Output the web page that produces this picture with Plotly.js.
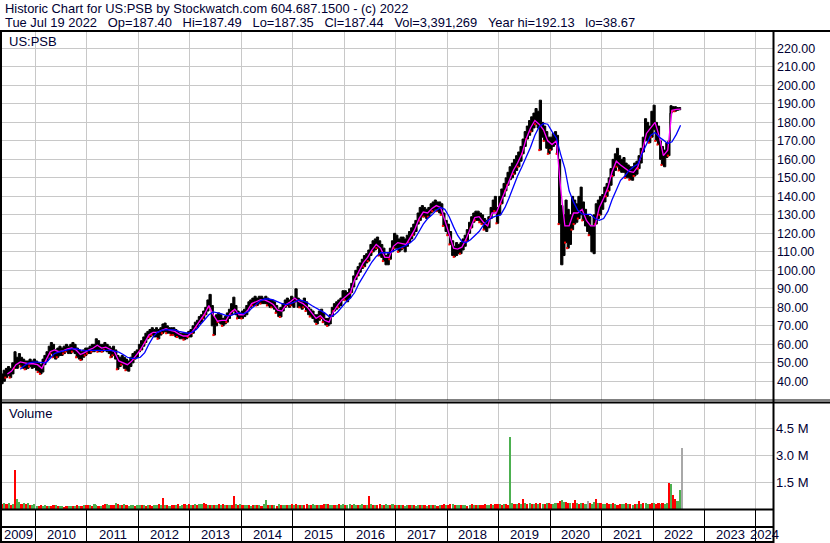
<!DOCTYPE html>
<html><head><meta charset="utf-8">
<script src="https://cdn.plot.ly/plotly-3.0.1.min.js"></script>
<style>html,body{margin:0;padding:0;background:#fff;overflow:hidden}#chart{width:830px;height:543px}</style>
</head><body><div id="chart"></div>
<script>
// ---------------- DATA ----------------
const FIRST_YEAR = 2009, FIRST_MONTH = 5, LAST_YEAR = 2022, LAST_MONTH = 7;

// half-month high / low envelope of the daily bars (1st-15th, 16th-end)
const H2009=[44,46,47,48,47,50,56,53,55,53,52,51,51,52,51,52];
const L2009=[38.7,40,42,43,42,44,47,47,49,48,47,46.5,47,48,47,47.5];
const H2010=[51,50,49,52,54,56,59,61,60,57,58,59,58,59,60,59,60,61,60,58,57,56,57,58];
const L2010=[46,45,44,45,49,51,53,55,53,52,53,54,54,55,56,55,55,56,55,53,52,51.5,53,54];
const H2011=[58,59,60,60,63,62,60,60,61,60,59,58,59,57,54,53,54,53,52,51,53,55,56,57];
const L2011=[55,55,56,56,57,56,56,56,57,56,55,53,54,52,46.5,48,49,47,46,45.5,48,50,52,53];
const H2012=[60,62,64,66,67,68,69,68,69,68,69,71,71.5,70,69,69,69,68,67,66,66,66,66,67];
const L2012=[56,57,59,61,63,64,65,64,64,63,65,66,67,66,66,65,65,64,64,63,63,62.5,63,64];
const H2013=[68,70,72,73,75,76,78,80,84,87,81,75,76,77,76,74,75,77,79,82,85.5,81,78,77];
const L2013=[64,66,68,69,71,72,74,76,78,80,70,65,70,72,71,70,71,72,74,76,78,76,74,74];
const H2014=[78,79,81,83,84,85,86,85,86,86,85,86,85,84,84,83,81,79,80,82,84,85,84,86];
const L2014=[74,75,76,78,80,81,81,81,82,82,82,82,81,80,80,79,77,75,74.8,78,80,81,80,81];
const H2015=[85,90,85,84,83,85,83,80,79,78,76,76,78,79,77,74,74,76,80,82,83,84,85,89];
const L2015=[80,83,80,80,79,80,78,76,75,74,72,71,73,74,72,70.5,70,71,75,78,79,80,81,84];
const H2016=[89,88,90,93,97,100,102,104,106,108,109,111,114,116,117,118,116,114,112,108,109,112,116,120];
const L2016=[84,83,85,88,91,95,97,99,101,102,104,105,108,110,111,112,108,107,105,103,103,106,110,112];
const H2017=[119,117,118,118,117,119,121,123,125,127,131,134,135,134,133,134,136,137,138,137,137,136,131,127];
const L2017=[112,110,111,112,110,113,115,117,119,121,125,127,129,129,128,129,131,132,133,132,131,130,124,121];
const H2018=[125,121,116,113,115,114,115,117,119,122,126,129,131,132,132,131,130,128,127,129,134,138,140,134];
const L2018=[119,114,108,107.3,108,109,109,111,113,116,120,123,126,127,127,126,125,122,121,123,128,131,132,125.4];
const H2019=[140,144,147,150,153,156,158,160,162,164,167,171,175,178,181,183,185,187.5,186,192,180,178,175,172];
const L2019=[130,136,140,143,146,149,150,152,154,156,159,163,167,171,173,175,177,179,177,165,172,170,166,163];
const H2020=[172,174,175,173,160,135,130,138,133,130,140,138,136,140,145,137,133,130,129,124,130,136,138,140];
const L2020=[165,167,168,163,125,103,108,115,112,114,122,125,126,128,130,127,124,121,119,110,109,125,128,130];
const H2021=[141,145,147,150,155,160,163,166,162,160,161,158,157,156,156,158,159,162,166,172,182,180,178,186];
const L2021=[133,137,140,143,146,151,154,156,154,153,153,150,150,149,148.7,151,152,155,158,164,170,170,169,172];
const H2022=[189.3,180,178,170,167,165,169,170,189,188.5,188.5,188,188,187.5];
const L2022=[176,170,168,160,157,156,161,162,185,186,186,186.5,186.8,187.3];

// monthly readings of the two moving-average lines (magenta fast, blue slow)
const F2009=[null,44,45.5,49,50.5,50,49.5,49.5];
const F2010=[49,47,51,56,57,56,56.5,57.5,58,57,54.5,55.5];
const F2011=[57,58,59.5,58,58.5,57,56,51,50,49,51,54];
const F2012=[57,61,65,66.5,66.5,67.5,68.5,67.5,67,65.5,64.5,64.5];
const F2013=[66.5,70,73,76.5,81,76,72.5,73,73,77,79,76];
const F2014=[76,78.5,82,83,84,84,83,81.5,78.5,78,81.5,83];
const F2015=[85,83,82,80,77,74,75.5,73,72,77.5,81,84];
const F2016=[86,88,95,100,104,107,111,114,112,107,107,113];
const F2017=[115,114.5,114,118,122,128,131.5,131,133.5,135,134,127];
const F2018=[120,112,111.5,112.5,117,123,128.5,129,126,124,131,131];
const F2019=[137,143,149,154,158,163,171,177,181,179,176,170];
const F2020=[168,170,145,124,124,131,131,133,127,124,124,134];
const F2021=[139,145,153,159,157,155,153.5,153,156,164,174,177];
const F2022=[180,172,162,165,186.5,187,187.2];

const S2009=[null,null,null,null,46.5,48.5,50,50.4];
const S2010=[50.4,50.2,50,52.5,55,55.8,56.5,57,57.5,57.6,57,56.5];
const S2011=[56.7,56.7,56.8,57,57,56.7,56.3,55.8,54.5,53,52.4,52.4];
const S2012=[53,55.5,60,64,66.5,67.5,68,68,67.8,67,66.3,66];
const S2013=[66.5,68,70.5,73,76,77.5,77,76.5,75.5,75.5,76.5,77];
const S2014=[76.5,77.5,79.5,81.5,83.5,84.5,84.5,84,83,82,81.5,82];
const S2015=[83,84,83.5,82.5,81,79.5,78.5,77,75,75.5,77.5,80.5];
const S2016=[83,85,88,93,97,101,104.5,107.5,109.5,109.5,109.5,110.5];
const S2017=[111.5,112.5,113.5,115,117,121,125,128,130,132.5,134,133];
const S2018=[129,123.5,119,115.5,115,116.5,118.5,121,124.5,127,128.5,129.5];
const S2019=[130,134,139,145.5,151,156,161,166.5,173,177.5,179.4,179];
const S2020=[175,171.5,163,155,143,137,132.5,130.5,130.3,130.3,128,127];
const S2021=[128,132,138,143.5,148.7,151,154,156,157.5,163,168,173];
const S2022=[174.5,172,170.4,168.6,169.5,173.5,178.5];

// half-month peak daily volume (millions) and the direction of that day (u up, d down, f flat)
const V2009=[.30,.35,.28,.32,.25,.30,2.17,.54,.40,.30,.34,.28,.32,.22,.25,.30];
const D2009="dudu dudu udud uduu";
const V2010=[.18,.15,.20,.14,.22,.16,.19,.15,.25,.20,.16,.14,.18,.13,.15,.17,.14,.19,.16,.22,.18,.15,.20,.24];
const D2010="uddu udud dudu uddu udud udud";
const V2011=[.20,.24,.18,.26,.21,.17,.19,.23,.28,.30,.22,.25,.20,.32,.26,.22,.24,.27,.21,.19,.25,.20,.18,.23];
const D2011="dudu udud duud dudu dudu uudu";
const V2012=[.22,.20,.25,.18,.24,.21,.19,.23,.20,.26,.22,.60,.24,.20,.18,.22,.25,.21,.27,.19,.23,.30,.22,.26];
const D2012="udud uddu udud udud dudu udud";
const V2013=[.24,.21,.26,.22,.28,.30,.34,.27,.22,.25,.20,.24,.21,.28,.23,.26,.22,.25,.20,.24,.72,.28,.23,.26];
const D2013="udud uudd udud udud udud dudu";
const V2014=[.22,.25,.20,.23,.19,.21,.24,.20,.22,.18,.26,.50,.23,.20,.24,.21,.19,.27,.22,.25,.20,.23,.21,.26];
const D2014="duud udud uduu dudu dudu udud";
const V2015=[.24,.28,.22,.25,.20,.23,.26,.21,.24,.27,.22,.20,.25,.23,.28,.30,.26,.24,.22,.25,.21,.27,.23,.29];
const D2015="udud uddu duud uddu duud uduu";
const V2016=[.25,.22,.27,.24,.26,.23,.21,.25,.28,.22,.24,.72,.26,.23,.25,.21,.27,.24,.22,.26,.23,.25,.28,.24];
const D2016="duud uudu udud udud dudu udud";
const V2017=[.22,.20,.24,.21,.19,.23,.20,.25,.22,.18,.21,.24,.20,.23,.19,.22,.21,.25,.20,.18,.23,.21,.26,.22];
const D2017="udud uudu duud udud udud uddu";
const V2018=[.24,.27,.30,.23,.21,.25,.22,.20,.24,.19,.23,.26,.21,.22,.20,.24,.23,.27,.25,.22,.26,.24,.28,.30];
const D2018="ddud uudu udud udud dduu dudd";
const V2019=[.28,.25,.30,.27,.24,4.0,.35,.30,.28,.33,.29,.56,.31,.27,.34,.30,.28,.32,.29,.36,.30,.27,.33,.31];
const D2019="udud duud udud udud udud udud";
const V2020=[.30,.28,.33,.36,.45,.48,.40,.38,.34,.32,.36,.50,.33,.30,.35,.31,.29,.44,.32,.30,.38,.56,.34,.31];
const D2020="duud duud dudd udud ufdu udud";
const V2021=[.30,.27,.32,.29,.26,.31,.28,.25,.30,.27,.29,.32,.26,.28,.24,.30,.27,.44,.29,.31,.34,.30,.28,.36];
const D2021="uudd udud duud udud udud uudd";
const V2022=[.32,.30,.34,.28,.31,.29,.33,1.44,1.37,.78,.55,.45,1.06,3.39];
const D2022="uddu duud uddu uf";

const PRICE_TICKS=[40,50,60,70,80,90,100,110,120,130,140,150,160,170,180,190,200,210,220];
const VOL_TICKS=[1.5,3.0,4.5];
const YEAR_LABELS=[2009,2010,2011,2012,2013,2014,2015,2016,2017,2018,2019,2020,2021,2022,2023,2024];
const HEADER_1="Historic Chart for US:PSB by Stockwatch.com 604.687.1500 - (c) 2022";
const HEADER_2=["Tue Jul 19 2022","Op=187.40","Hi=187.49","Lo=187.35","Cl=187.44","Vol=3,391,269","Year hi=192.13","lo=38.67"];
const SYMBOL="US:PSB";

// ---------------- assembly ----------------
const HIGH=[].concat(H2009,H2010,H2011,H2012,H2013,H2014,H2015,H2016,H2017,H2018,H2019,H2020,H2021,H2022);
const LOW=[].concat(L2009,L2010,L2011,L2012,L2013,L2014,L2015,L2016,L2017,L2018,L2019,L2020,L2021,L2022);
const FAST=[].concat(F2009,F2010,F2011,F2012,F2013,F2014,F2015,F2016,F2017,F2018,F2019,F2020,F2021,F2022);
const SLOW=[].concat(S2009,S2010,S2011,S2012,S2013,S2014,S2015,S2016,S2017,S2018,S2019,S2020,S2021,S2022);
const VOL=[].concat(V2009,V2010,V2011,V2012,V2013,V2014,V2015,V2016,V2017,V2018,V2019,V2020,V2021,V2022);
const DIR=(D2009+D2010+D2011+D2012+D2013+D2014+D2015+D2016+D2017+D2018+D2019+D2020+D2021+D2022).replace(/\s/g,'').split('');

const pad=n=>String(n).padStart(2,'0');
const HALF_DATES=[], MONTH_DATES=[];
for(let y=FIRST_YEAR;y<=LAST_YEAR;y++){
  const m0=y===FIRST_YEAR?FIRST_MONTH:1, m1=y===LAST_YEAR?LAST_MONTH:12;
  for(let m=m0;m<=m1;m++){
    HALF_DATES.push(`${y}-${pad(m)}-01`,`${y}-${pad(m)}-16`);
    MONTH_DATES.push(`${y}-${pad(m)}-15`);
  }
}

// ---------------- geometry helpers ----------------
const W=830,H=543,ML=2,MR=57,MT=31,MB=34;
const PW=W-ML-MR, PH=H-MT-MB;
const fx=p=>(p-ML)/PW;            // pixel x -> paper x
const fy=p=>(H-MB-p)/PH;          // pixel y -> paper y
const X_RANGE=['2009-05-08','2024-05-01'];
const FONT='Liberation Sans, Arial, sans-serif';
const INK='#000033';
const GRID='#c8c8c8';

const volColor=DIR.map(d=>d==='u'?'#4cb050':(d==='d'?'#ff0000':'#a8a8a8'));
const downX=[],downY=[];
DIR.forEach((d,i)=>{ if(d==='d'){ downX.push(HALF_DATES[i]); downY.push(LOW[i]); } });

const DAY=86400000;
const traces=[
  {x:HALF_DATES,y:HIGH,type:'scatter',mode:'lines',line:{color:'#000',width:1,shape:'hv'},hoverinfo:'skip',xaxis:'x',yaxis:'y'},
  {x:HALF_DATES,y:LOW,type:'scatter',mode:'lines',fill:'tonexty',fillcolor:'#000',line:{color:'#000',width:1,shape:'hv'},hoverinfo:'skip',xaxis:'x',yaxis:'y'},
  {x:downX,y:downY,type:'scatter',mode:'markers',marker:{color:'#ff0000',size:2,symbol:'square'},hoverinfo:'skip',xaxis:'x',yaxis:'y'},
  {x:MONTH_DATES,y:FAST,type:'scatter',mode:'lines',line:{color:'#ff00ff',width:1.3},connectgaps:false,xaxis:'x',yaxis:'y'},
  {x:MONTH_DATES,y:SLOW,type:'scatter',mode:'lines',line:{color:'#0000ff',width:1.3},connectgaps:false,xaxis:'x',yaxis:'y'},
  {x:HALF_DATES,y:VOL,type:'bar',width:15*DAY,offset:0,marker:{color:volColor,line:{width:0}},xaxis:'x',yaxis:'y2'}
];

// year labels centred on the visible part of each year
const r0=new Date(X_RANGE[0]).getTime(), r1=new Date(X_RANGE[1]).getTime();
const iso=ms=>new Date(ms).toISOString().slice(0,10);
const annotations=[];
YEAR_LABELS.forEach(yr=>{
  const a=Math.max(Date.UTC(yr,0,1),r0), b=Math.min(Date.UTC(yr+1,0,1),r1);
  annotations.push({x:iso((a+b)/2),xref:'x',y:fy(534.5),yref:'paper',text:String(yr),showarrow:false,
    xanchor:'center',yanchor:'middle',font:{family:FONT,size:13,color:INK}});
});
const headFont={family:FONT,size:12.9,color:INK};
annotations.push({x:fx(4),xref:'paper',y:fy(8),yref:'paper',text:HEADER_1,showarrow:false,xanchor:'left',yanchor:'middle',borderpad:0,font:headFont});
annotations.push({x:fx(4),xref:'paper',y:fy(22.6),yref:'paper',text:HEADER_2.join('\u00a0\u00a0\u00a0'),showarrow:false,xanchor:'left',yanchor:'middle',borderpad:0,font:headFont});
annotations.push({x:fx(7),xref:'paper',y:fy(42),yref:'paper',text:SYMBOL,showarrow:false,xanchor:'left',yanchor:'middle',font:{family:FONT,size:13,color:INK}});
annotations.push({x:fx(7),xref:'paper',y:fy(413),yref:'paper',text:'Volume',showarrow:false,xanchor:'left',yanchor:'middle',font:{family:FONT,size:13,color:INK}});

const hline=(y,x0,x1,w)=>({type:'line',xref:'paper',yref:'paper',x0:fx(x0),x1:fx(x1),y0:fy(y),y1:fy(y),line:{color:'#000',width:w}});
const vline=(x,y0,y1,w)=>({type:'line',xref:'paper',yref:'paper',x0:fx(x),x1:fx(x),y0:fy(y0),y1:fy(y1),line:{color:'#000',width:w}});
const shapes=[
  hline(31,0,830,2),
  vline(1,31,543,2),
  vline(773.5,31,543,2),
  hline(400,0,830,1),
  hline(402.5,0,830,2),
  hline(509.5,0,774,2),
  hline(527,0,774,2),
  hline(542,0,774,2)
];

const layout={
  width:W,height:H,margin:{l:ML,r:MR,t:MT,b:MB,pad:0},
  paper_bgcolor:'#fff',plot_bgcolor:'#fff',showlegend:false,bargap:0,
  font:{family:FONT,color:INK},
  xaxis:{type:'date',range:X_RANGE,domain:[0,1],anchor:'y2',showgrid:true,gridcolor:GRID,gridwidth:1,
    dtick:'M12',tick0:'2010-01-01',ticks:'outside',ticklen:33,tickwidth:1,tickcolor:'#000',
    showticklabels:false,showline:false,zeroline:false,fixedrange:true},
  yaxis:{domain:[fy(400),1],range:[29.9,229.4],side:'right',anchor:'x',tickmode:'array',tickvals:PRICE_TICKS,
    ticktext:PRICE_TICKS.map(v=>v.toFixed(2)),showgrid:true,gridcolor:GRID,gridwidth:1,zeroline:false,showline:false,
    ticks:'',ticklabelstandoff:3,tickfont:{family:FONT,size:12.5,color:INK},fixedrange:true},
  yaxis2:{domain:[0,fy(402.5)],range:[0,5.92],side:'right',anchor:'x',tickmode:'array',tickvals:VOL_TICKS,
    ticktext:VOL_TICKS.map(v=>v.toFixed(1)+' M'),showgrid:true,gridcolor:GRID,gridwidth:1,zeroline:false,showline:false,
    ticks:'',ticklabelstandoff:2,tickfont:{family:FONT,size:13,color:INK},fixedrange:true},
  annotations:annotations,shapes:shapes
};
Plotly.newPlot('chart',traces,layout,{staticPlot:true,displayModeBar:false});
</script></body></html>
